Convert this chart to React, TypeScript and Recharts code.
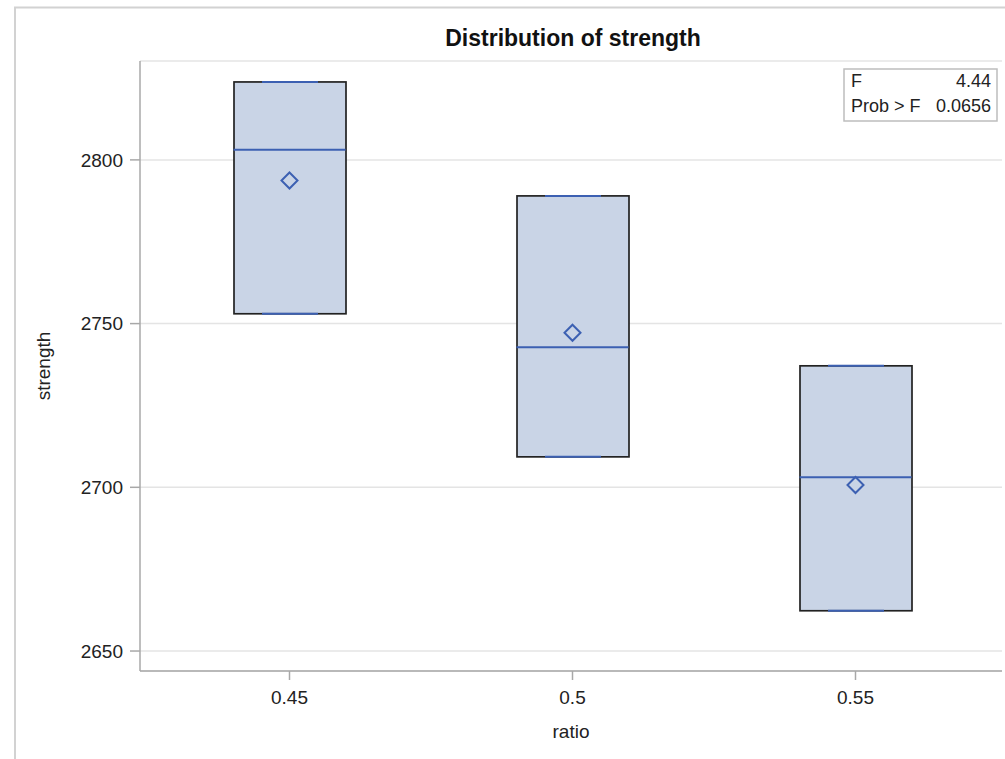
import React from 'react';
import { ComposedChart, Bar, Scatter, XAxis, YAxis, CartesianGrid } from 'recharts';

// values
const ratios = ['0.45', '0.5', '0.55'];
const lowerQuartile = [2753.0, 2709.3, 2662.3];
const upperQuartile = [2823.8, 2789.0, 2737.1];
const medians = [2803.1, 2742.8, 2703.1];
const means = [2793.7, 2747.2, 2700.7];
const yTicks = [2650, 2700, 2750, 2800];

const data = ratios.map((r, i) => ({
  ratio: r,
  box: [lowerQuartile[i], upperQuartile[i]],
  median: medians[i],
  mean: means[i],
}));

const BLUE = '#3c60b2';
const FILL = '#c9d4e6';
const EDGE = '#222';
const AXIS = '#a8a8a8';
const FONT = '"Liberation Sans", Arial, sans-serif';
const BOX_W = 112;

// box drawn from the ranged bar: black sides, blue whisker caps on top and bottom
const BoxShape = (props: any) => {
  const { x, y, width, height } = props;
  const cx = x + width / 2;
  const q = width / 4;
  return (
    <g>
      <rect x={x} y={y} width={width} height={height} fill={FILL} stroke={EDGE} strokeWidth={1.7} />
      <line x1={cx - q} x2={cx + q} y1={y} y2={y} stroke={BLUE} strokeWidth={2} />
      <line x1={cx - q} x2={cx + q} y1={y + height} y2={y + height} stroke={BLUE} strokeWidth={2} />
    </g>
  );
};

const MedianShape = (props: any) => {
  const { cx, cy } = props;
  return <line x1={cx - BOX_W / 2} x2={cx + BOX_W / 2} y1={cy} y2={cy} stroke={BLUE} strokeWidth={2} />;
};

const MeanShape = (props: any) => {
  const { cx, cy } = props;
  const r = 8;
  return (
    <path
      d={`M${cx},${cy - r}L${cx + r},${cy}L${cx},${cy + r}L${cx - r},${cy}Z`}
      fill="none"
      stroke={BLUE}
      strokeWidth={2}
    />
  );
};

export default function App() {
  return (
    <div style={{ position: 'fixed', left: 0, top: 0, width: 1005, height: 759, background: '#fff', fontFamily: FONT, overflow: 'hidden' }}>
      <ComposedChart
        width={1005}
        height={759}
        data={data}
        margin={{ top: 61, right: 3, left: 20, bottom: 0 }}
      >
        <CartesianGrid vertical={false} stroke="#e4e4e4" strokeWidth={1.5} />
        <XAxis
          dataKey="ratio"
          type="category"
          height={88}
          padding={{ left: 8, right: 5 }}
          stroke={AXIS}
          strokeWidth={1.5}
          tickSize={9}
          tickMargin={11}
          tick={{ fill: '#222', fontSize: 19, fontFamily: FONT }}
          label={{ value: 'ratio', position: 'insideBottom', offset: 21, fill: '#222', fontSize: 19, fontFamily: FONT }}
        />
        <XAxis xAxisId="top" orientation="top" dataKey="ratio" height={0} tick={false} tickLine={false} stroke={AXIS} strokeWidth={1.5} />
        <YAxis
          domain={[2643.9, 2830.2]}
          ticks={yTicks}
          width={120}
          stroke={AXIS}
          strokeWidth={1.5}
          tickSize={10}
          tickMargin={7}
          tick={{ fill: '#222', fontSize: 19, fontFamily: FONT }}
          label={{ value: 'strength', angle: -90, position: 'insideLeft', offset: 23, fill: '#222', fontSize: 19, fontFamily: FONT, style: { textAnchor: 'middle' } }}
        />
        <YAxis yAxisId="right" orientation="right" domain={[2643.9, 2830.2]} width={0} tick={false} tickLine={false} stroke={AXIS} strokeWidth={1.5} />
        <Bar dataKey="box" barSize={BOX_W} shape={<BoxShape />} isAnimationActive={false} />
        <Scatter dataKey="median" shape={<MedianShape />} isAnimationActive={false} />
        <Scatter dataKey="mean" shape={<MeanShape />} isAnimationActive={false} />
      </ComposedChart>
      <svg width={1005} height={759} style={{ position: 'absolute', left: 0, top: 0, pointerEvents: 'none' }}>
        <rect x={15} y={7.5} width={1100} height={900} fill="none" stroke="#d2d2d2" strokeWidth={2} />
        <text x={573} y={46} textAnchor="middle" fontSize={23} fontWeight="bold" fontFamily={FONT} fill="#111">
          Distribution of strength
        </text>
        <rect x={844} y={69} width={153} height={52} fill="#fff" stroke="#bdbdbd" strokeWidth={1.5} />
        <text x={851} y={87} fontSize={18} fontFamily={FONT} fill="#222">F</text>
        <text x={991} y={87} textAnchor="end" fontSize={18} fontFamily={FONT} fill="#222">4.44</text>
        <text x={851} y={112} fontSize={18} fontFamily={FONT} fill="#222">Prob &gt; F</text>
        <text x={991} y={112} textAnchor="end" fontSize={18} fontFamily={FONT} fill="#222">0.0656</text>
      </svg>
    </div>
  );
}
